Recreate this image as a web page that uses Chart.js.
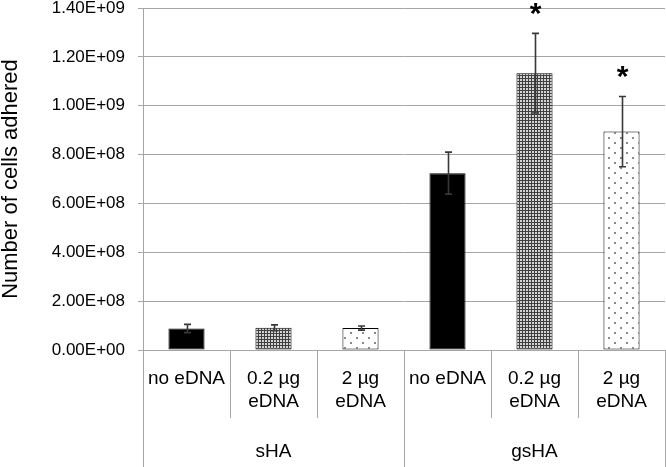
<!DOCTYPE html>
<html>
<head>
<meta charset="utf-8">
<script src="https://cdn.jsdelivr.net/npm/chart.js@4.4.1/dist/chart.umd.min.js"></script>
<style>
  html, body { margin: 0; padding: 0; background: #fff; }
  #wrap { width: 666px; height: 467px; }
</style>
</head>
<body>
<div id="wrap"><canvas id="myBarChart" width="666" height="467"></canvas></div>
<script>
// categories and groups
var categories = [['no eDNA'], ['0.2 µg', 'eDNA'], ['2 µg', 'eDNA'], ['no eDNA'], ['0.2 µg', 'eDNA'], ['2 µg', 'eDNA']];
var groups = ['sHA', 'gsHA'];
var groupSize = 3;

// cells adhered, mean and error
var cellsAdhered = [0.88e8, 0.91e8, 0.90e8, 7.24e8, 11.33e8, 8.94e8];
var errorValues = [0.17e8, 0.12e8, 0.085e8, 0.86e8, 1.63e8, 1.44e8];
var significant = [false, false, false, false, true, true];

var yTicks = [0, 2e8, 4e8, 6e8, 8e8, 10e8, 12e8, 14e8];

var FONT = 'Arial, "Liberation Sans", sans-serif';
var GRID = '#a6a6a6';

function makePattern(kind) {
    var c = document.createElement('canvas');
    var g = c.getContext('2d');
    if (kind === 'hatch') {
        c.width = 3; c.height = 3;
        g.fillStyle = '#404040';
        g.fillRect(0, 0, 3, 3);
        g.fillStyle = '#d4d4d4';
        g.fillRect(1, 1, 2, 2);
    } else {
        c.width = 12; c.height = 10;
        g.fillStyle = '#ffffff';
        g.fillRect(0, 0, 12, 10);
        g.fillStyle = '#8a8a8a';
        g.fillRect(2, 2, 2, 2);
        g.fillRect(8, 7, 2, 2);
    }
    return document.getElementById('myBarChart').getContext('2d').createPattern(c, 'repeat');
}

var hatch = makePattern('hatch');
var dots = makePattern('dots');
var barFills = ['#000000', hatch, dots, '#000000', hatch, dots];

var extrasPlugin = {
    id: 'extras',
    afterDatasetsDraw: function (chart) {
        var ctx = chart.ctx;
        var x = chart.scales.x, y = chart.scales.y;
        ctx.save();
        // error bars
        ctx.strokeStyle = '#383838';
        ctx.lineWidth = 1.6;
        cellsAdhered.forEach(function (v, i) {
            var cx = Math.round(x.getPixelForValue(i)) + 0.5;
            var top = y.getPixelForValue(v + errorValues[i]);
            var bot = y.getPixelForValue(v - errorValues[i]);
            ctx.beginPath();
            ctx.moveTo(cx, top); ctx.lineTo(cx, bot);
            ctx.moveTo(cx - 3.5, top); ctx.lineTo(cx + 3.5, top);
            ctx.moveTo(cx - 3.5, bot); ctx.lineTo(cx + 3.5, bot);
            ctx.stroke();
            if (significant[i]) {
                ctx.fillStyle = '#000';
                ctx.font = 'bold 30px ' + FONT;
                ctx.textAlign = 'center';
                ctx.textBaseline = 'middle';
                ctx.fillText('*', cx, top - 19);
            }
        });
        ctx.restore();
    },
    afterDraw: function (chart) {
        var ctx = chart.ctx;
        var x = chart.scales.x;
        var area = chart.chartArea;
        var step = x.getPixelForValue(1) - x.getPixelForValue(0);
        ctx.save();
        ctx.strokeStyle = GRID;
        ctx.lineWidth = 1;
        for (var i = 0; i <= categories.length; i++) {
            var px = Math.round(x.getPixelForValue(i) - step / 2) + 0.5;
            var isGroup = i % groupSize === 0;
            ctx.beginPath();
            ctx.moveTo(px, area.bottom);
            ctx.lineTo(px, isGroup ? chart.height : area.bottom + 68);
            ctx.stroke();
        }
        ctx.fillStyle = '#000';
        ctx.font = '19px ' + FONT;
        ctx.textAlign = 'center';
        ctx.textBaseline = 'middle';
        groups.forEach(function (g, gi) {
            var a = x.getPixelForValue(gi * groupSize) - step / 2;
            var b = x.getPixelForValue(gi * groupSize + groupSize - 1) + step / 2;
            ctx.fillText(g, (a + b) / 2, area.bottom + 102);
        });
        ctx.restore();
    }
};

document.addEventListener('DOMContentLoaded', function () {
    var ctx = document.getElementById('myBarChart').getContext('2d');
    var myBarChart = new Chart(ctx, {
        type: 'bar',
        data: {
            labels: categories,
            datasets: [{
                label: 'Number of cells adhered',
                data: cellsAdhered,
                backgroundColor: barFills,
                borderColor: '#000000',
                borderWidth: 1,
                borderSkipped: false,
                categoryPercentage: 1,
                barPercentage: 0.415
            }]
        },
        options: {
            responsive: false,
            animation: false,
            layout: { padding: { top: 8, right: 1, left: 0, bottom: 0 } },
            scales: {
                x: {
                    grid: { display: false, drawTicks: false },
                    border: { color: GRID, width: 1 },
                    ticks: {
                        color: '#000',
                        font: { family: FONT, size: 19, lineHeight: 1.18 },
                        padding: 18,
                        maxRotation: 0,
                        autoSkip: false
                    },
                    afterFit: function (scale) {
                        scale.height = 117;
                        scale.paddingLeft = 0;
                        scale.paddingRight = 0;
                    }
                },
                y: {
                    min: 0,
                    max: 1.4e9,
                    afterBuildTicks: function (scale) {
                        scale.ticks = yTicks.map(function (v) { return { value: v }; });
                    },
                    grid: { color: GRID, drawTicks: true, tickLength: 5 },
                    border: { color: GRID, width: 1 },
                    ticks: {
                        color: '#000',
                        font: { family: FONT, size: 17 },
                        padding: 13,
                        callback: function (v) {
                            var e = Math.floor(Math.log10(v || 1));
                            if (v === 0) e = 0;
                            var m = v === 0 ? 0 : v / Math.pow(10, e);
                            return m.toFixed(2) + 'E+' + (e < 10 ? '0' : '') + e;
                        }
                    },
                    title: {
                        display: true,
                        text: 'Number of cells adhered',
                        color: '#000',
                        font: { family: FONT, size: 22, lineHeight: 1 },
                        padding: { top: 0, bottom: 0 }
                    },
                    afterFit: function (scale) {
                        scale.width = 143;
                        scale.paddingTop = 0;
                        scale.paddingBottom = 0;
                    }
                }
            },
            plugins: {
                legend: { display: false },
                tooltip: { enabled: false }
            }
        },
        plugins: [extrasPlugin]
    });
});
</script>
</body>
</html>
